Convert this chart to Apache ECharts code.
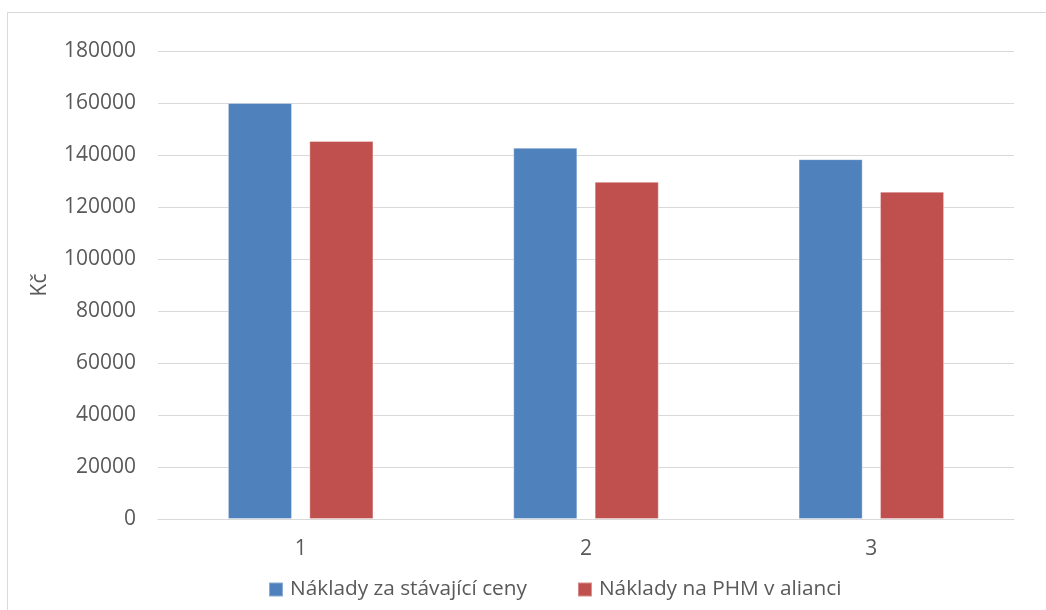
<!DOCTYPE html>
<html>
<head>
<meta charset="utf-8">
<script src="https://cdn.jsdelivr.net/npm/echarts@6/dist/echarts.min.js"></script>
<style>
  html, body { margin: 0; padding: 0; background: #ffffff; }
  #chart { width: 1046px; height: 610px; }
</style>
</head>
<body>
<div id="chart"></div>
<script>
// Categories and yearly cost series (Kč)
const categories = ['1', '2', '3'];
const currentPrices = [160000, 142800, 138400];
const allianceFuel = [145400, 129700, 125900];
const seriesNames = ['Náklady za stávající ceny', 'Náklady na PHM v alianci'];

const FONT = '"Open Sans", "Liberation Sans", sans-serif';
const TEXT = '#595959';
const GRID = '#d9d9d9';

const chart = echarts.init(document.getElementById('chart'), null, { renderer: 'canvas' });

chart.setOption({
  backgroundColor: '#ffffff',
  animation: false,
  graphic: [{
    type: 'rect',
    shape: { x: 7.5, y: 12.5, width: 1100, height: 700 },
    style: { fill: 'none', stroke: GRID, lineWidth: 1 },
    silent: true
  }],
  grid: { left: 158, right: 32, top: 51, bottom: 91, containLabel: false },
  legend: {
    bottom: 5,
    left: 263,
    itemWidth: 14,
    itemHeight: 14,
    itemGap: 50,
    icon: 'rect',
    textStyle: { fontFamily: FONT, fontSize: 20.8, color: TEXT, padding: [0, 0, 0, 2] },
    data: seriesNames
  },
  xAxis: {
    type: 'category',
    data: categories,
    axisLine: { lineStyle: { color: GRID, width: 1 } },
    axisTick: { show: false },
    axisLabel: { fontFamily: FONT, fontSize: 21, color: TEXT, margin: 20 }
  },
  yAxis: {
    type: 'value',
    min: 0,
    max: 180000,
    interval: 20000,
    name: 'Kč',
    nameLocation: 'middle',
    nameRotate: 90,
    nameGap: 107,
    nameTextStyle: { fontFamily: FONT, fontSize: 21, color: TEXT },
    axisLine: { show: false },
    axisTick: { show: false },
    axisLabel: {
      fontFamily: FONT, fontSize: 21, color: TEXT, margin: 22,
      formatter: (v) => String(v)
    },
    splitLine: { lineStyle: { color: GRID, width: 1 } }
  },
  series: [
    {
      name: seriesNames[0],
      type: 'bar',
      data: currentPrices,
      barGap: '27%',
      barCategoryGap: '49%',
      itemStyle: { color: '#4f81bd', borderColor: 'rgba(255,255,255,0.35)', borderWidth: 1 }
    },
    {
      name: seriesNames[1],
      type: 'bar',
      data: allianceFuel,
      barGap: '27%',
      barCategoryGap: '49%',
      itemStyle: { color: '#c0504d', borderColor: 'rgba(255,255,255,0.35)', borderWidth: 1 }
    }
  ]
});
</script>
</body>
</html>
